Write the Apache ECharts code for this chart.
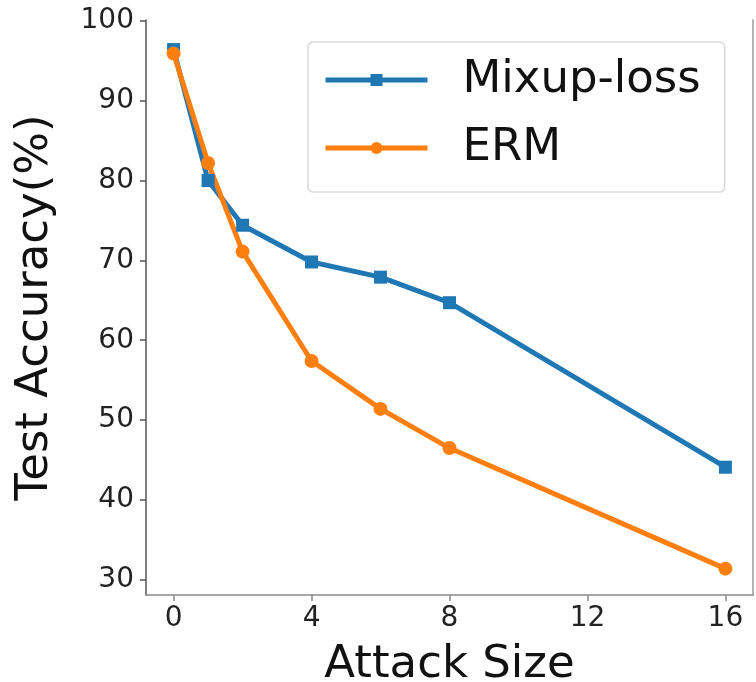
<!DOCTYPE html>
<html>
<head>
<meta charset="utf-8">
<script src="https://cdn.jsdelivr.net/npm/echarts@6/dist/echarts.min.js"></script>
<style>html,body{margin:0;padding:0;background:#fff}#c{width:756px;height:682px}</style>
</head>
<body>
<div id="c"></div>
<script>
const attackSizes = [0, 1, 2, 4, 6, 8, 16];
const mixupLoss = [96.4, 80.0, 74.4, 69.8, 67.9, 64.7, 44.1];
const erm = [95.9, 82.2, 71.1, 57.4, 51.4, 46.5, 31.4];
const xTicks = [0, 4, 8, 12, 16];
const yTicks = [30, 40, 50, 60, 70, 80, 90, 100];
const seriesNames = ['Mixup-loss', 'ERM'];

const FONT = 'DejaVu Sans';
const chart = echarts.init(document.getElementById('c'), null, {renderer: 'canvas'});
const pairs = (xs, ys) => xs.map((x, i) => [x, ys[i]]);

chart.setOption({
  animation: false,
  textStyle: {fontFamily: FONT},
  grid: {left: 146, right: 3, top: 20, bottom: 87, containLabel: false, outerBoundsMode: 'none'},
  legend: {
    data: seriesNames,
    orient: 'vertical',
    left: 308,
    top: 42,
    padding: [13, 24, 19, 15],
    itemGap: 18,
    itemWidth: 102,
    itemHeight: 15,
    lineStyle: {width: 5},
    backgroundColor: '#fff',
    borderColor: '#d9d9d9',
    borderWidth: 1.5,
    borderRadius: 5,
    textStyle: {fontFamily: FONT, fontSize: 45, color: '#111', lineHeight: 50, padding: [0, 0, 0, 30]}
  },
  xAxis: {
    type: 'value', min: -0.8, max: 16.8,
    name: 'Attack Size', nameLocation: 'middle', nameGap: 48,
    nameTextStyle: {fontFamily: FONT, fontSize: 45, color: '#111'},
    axisLine: {show: true, onZero: false, lineStyle: {color: '#8a8a8a', width: 1.5}},
    axisTick: {show: true, length: 6, customValues: xTicks, lineStyle: {color: '#8a8a8a', width: 1.5}},
    axisLabel: {customValues: xTicks, fontFamily: FONT, fontSize: 28, color: '#222', margin: 10},
    splitLine: {show: false}
  },
  yAxis: [{
    type: 'value', min: 28.1, max: 100.1,
    name: 'Test Accuracy(%)', nameLocation: 'middle', nameGap: 88,
    nameTextStyle: {fontFamily: FONT, fontSize: 45, color: '#111'},
    axisLine: {show: true, onZero: false, lineStyle: {color: '#555', width: 1.5}},
    axisTick: {show: true, length: 6, customValues: yTicks, lineStyle: {color: '#555', width: 1.5}},
    axisLabel: {customValues: yTicks, fontFamily: FONT, fontSize: 28, color: '#222', margin: 12},
    splitLine: {show: false}
  }, {
    type: 'value', min: 28.1, max: 100.1, position: 'right',
    axisLine: {show: true, onZero: false, lineStyle: {color: '#9a9a9a', width: 1.5}},
    axisTick: {show: false}, axisLabel: {show: false}, splitLine: {show: false}
  }],
  series: [{
    name: seriesNames[0], type: 'line', data: pairs(attackSizes, mixupLoss),
    symbol: 'rect', symbolSize: 13,
    lineStyle: {color: '#1f77b4', width: 5},
    itemStyle: {color: '#1f77b4'}
  }, {
    name: seriesNames[1], type: 'line', data: pairs(attackSizes, erm),
    symbol: 'circle', symbolSize: 14,
    lineStyle: {color: '#ff7f0e', width: 5},
    itemStyle: {color: '#ff7f0e'}
  }]
});
</script>
</body>
</html>
